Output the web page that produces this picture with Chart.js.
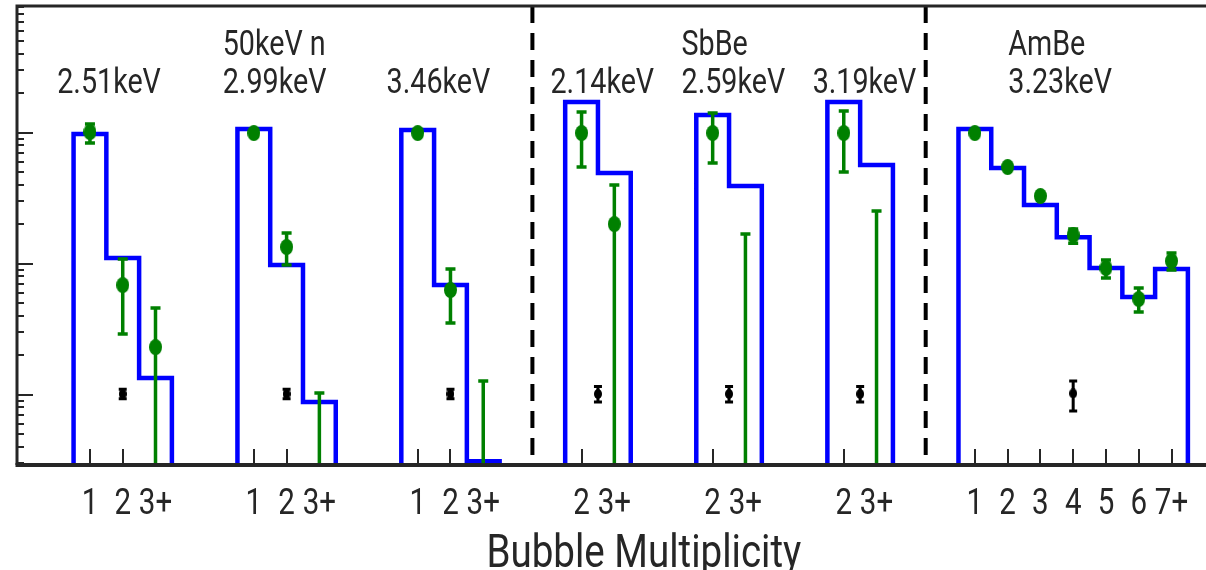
<!DOCTYPE html>
<html>
<head>
<meta charset="utf-8">
<title>Bubble Multiplicity</title>
<script src="https://cdn.jsdelivr.net/npm/chart.js@4.4.1/dist/chart.umd.min.js"></script>
<style>
  html, body { margin: 0; padding: 0; background: #fff; overflow: hidden; }
  #wrap { position: relative; width: 1206px; height: 570px; }
</style>
</head>
<body>
<div id="wrap"><canvas id="multChart"></canvas></div>
<script>
// multiplicity bins for each source / threshold setting
const binLabels = [
  ['1', '2', '3+'],
  ['1', '2', '3+'],
  ['1', '2', '3+'],
  ['2', '3+'],
  ['2', '3+'],
  ['2', '3+'],
  ['1', '2', '3', '4', '5', '6', '7+']
];
const sourceNames = ['', '50keV n', '', '', 'SbBe', '', 'AmBe'];
const thresholds = ['2.51keV', '2.99keV', '3.46keV', '2.14keV', '2.59keV', '3.19keV', '3.23keV'];

// simulation (blue histograms)
const simRates = [
  [0.974, 0.110, 0.0134],
  [1.063, 0.0974, 0.00877],
  [1.045, 0.0685, 0.0031],
  [1.709, 0.491],
  [1.36, 0.391],
  [1.709, 0.565],
  [1.063, 0.536, 0.280, 0.159, 0.0924, 0.0555, 0.0908]
];

// measured (green); null = no central value, upper bar only
const measRates = [
  [1.009, 0.0685, 0.0230],
  [0.991, 0.1336, null],
  [0.991, 0.0628, null],
  [0.991, 0.200],
  [0.991, null],
  [0.991, null],
  [0.991, 0.545, 0.3275, 0.165, 0.0924, 0.0536, 0.1045]
];
const measUpper = [
  [1.161, 0.1083, 0.0457],
  [1.05, 0.171, 0.01027],
  [1.05, 0.0908, 0.01268],
  [1.434, 0.397],
  [1.409, 0.168],
  [1.459, 0.2517],
  [1.02, 0.56, 0.337, 0.1835, 0.1062, 0.0650, 0.1203]
];
const measLower = [
  [0.832, 0.0290, 0],
  [0.94, 0.0974, 0],
  [0.94, 0.0351, 0],
  [0.545, 0],
  [0.585, 0],
  [0.4994, 0],
  [0.96, 0.53, 0.318, 0.1431, 0.0775, 0.0426, 0.0893]
];

// background (black), one per source, and which bin it sits on
const bgBin = [1, 1, 1, 0.5, 0.5, 0.5, 3];
const bgRates = [0.0101, 0.0101, 0.0101, 0.0101, 0.0101, 0.0101, 0.0102];
const bgUpper = [0.0110, 0.0110, 0.0110, 0.01154, 0.01154, 0.01154, 0.01268];
const bgLower = [0.0093, 0.0093, 0.0093, 0.00877, 0.00877, 0.00877, 0.00748];

const Y_MIN = 0.0029, Y_MAX = 9.24;
const X_MIN = -2.226, X_MAX = 33.9;
const GAP = 2;               // empty bins between sources
const dividers = [3, 6];     // dashed line before these groups

const BLUE = '#0000ff', GREEN = '#008000', INK = '#262626';

// first-bin position of every group
const groupStart = [];
let pos = 0;
binLabels.forEach(b => { groupStart.push(pos); pos += b.length + GAP; });

function histPoints(g) {
  const s = groupStart[g], v = simRates[g];
  const floor = Y_MIN / 10;
  const pts = [{ x: s - 0.5, y: floor }];
  v.forEach((r, i) => {
    pts.push({ x: s + i - 0.5, y: r });
    pts.push({ x: s + i + 0.5, y: r });
  });
  pts.push({ x: s + v.length - 0.5, y: floor });
  return pts;
}

function ellipseSprite(w, h, color) {
  const c = document.createElement('canvas');
  c.width = w; c.height = h;
  const g = c.getContext('2d');
  g.fillStyle = color;
  g.beginPath();
  g.ellipse(w / 2, h / 2, w / 2, h / 2, 0, 0, Math.PI * 2);
  g.fill();
  return c;
}

const histSets = binLabels.map((_, g) => ({
  data: histPoints(g),
  showLine: true,
  borderColor: BLUE,
  borderWidth: 4.5,
  borderJoinStyle: 'miter',
  borderCapStyle: 'butt',
  pointRadius: 0,
  tension: 0,
  clip: 0,
  order: 3
}));

const measPts = [], measBars = [];
measRates.forEach((vals, g) => {
  vals.forEach((v, i) => {
    const x = groupStart[g] + i;
    if (v !== null) measPts.push({ x, y: v });
    measBars.push({ x, hi: measUpper[g][i], lo: measLower[g][i] });
  });
});

const bgPts = bgRates.map((v, g) => ({ x: groupStart[g] + bgBin[g], y: v }));
const bgBars = bgRates.map((v, g) => ({ x: groupStart[g] + bgBin[g], hi: bgUpper[g], lo: bgLower[g] }));

// error bars under the markers, axes, ticks and text
const decorations = {
  id: 'decorations',
  beforeDatasetsDraw(chart) {
    const { ctx, chartArea: a, scales: { x, y } } = chart;
    ctx.save();
    ctx.strokeStyle = INK;
    ctx.lineWidth = 2;
    // bin ticks, pointing up from the bottom axis
    binLabels.forEach((labels, g) => {
      labels.forEach((_, i) => {
        const px = Math.round(x.getPixelForValue(groupStart[g] + i));
        ctx.beginPath();
        ctx.moveTo(px, a.bottom);
        ctx.lineTo(px, a.bottom - 16);
        ctx.stroke();
      });
    });
    // log ticks on the left axis
    const e0 = Math.floor(Math.log10(Y_MIN)), e1 = Math.ceil(Math.log10(Y_MAX));
    for (let e = e0; e <= e1; e++) {
      for (let k = 1; k <= 9; k++) {
        const v = k * Math.pow(10, e);
        if (v < Y_MIN || v > Y_MAX) continue;
        const py = Math.round(y.getPixelForValue(v));
        ctx.beginPath();
        ctx.moveTo(a.left, py);
        ctx.lineTo(a.left + (k === 1 ? 16 : 7), py);
        ctx.stroke();
      }
    }
    // dashed separators between sources
    ctx.strokeStyle = '#000';
    ctx.lineWidth = 4;
    ctx.setLineDash([17, 10]);
    dividers.forEach(g => {
      const px = x.getPixelForValue(groupStart[g] - (GAP + 1) / 2);
      ctx.beginPath();
      ctx.moveTo(px, a.top);
      ctx.lineTo(px, a.bottom);
      ctx.stroke();
    });
    ctx.restore();
  },
  beforeDatasetDraw(chart, args) {
    const ds = chart.data.datasets[args.index];
    if (!ds.errorBars) return;
    const { ctx, chartArea: a, scales: { x, y } } = chart;
    ctx.save();
    ctx.beginPath();
    ctx.rect(a.left, a.top, a.right - a.left, a.bottom - a.top);
    ctx.clip();
    ctx.strokeStyle = ds.backgroundColor;
    ctx.lineWidth = ds.barWidth;
    ds.errorBars.forEach(b => {
      const px = x.getPixelForValue(b.x);
      const top = y.getPixelForValue(b.hi);
      const bot = b.lo > 0 ? y.getPixelForValue(b.lo) : a.bottom + 5;
      ctx.beginPath();
      ctx.moveTo(px, top);
      ctx.lineTo(px, bot);
      ctx.moveTo(px - ds.capHalf, top);
      ctx.lineTo(px + ds.capHalf, top);
      if (b.lo > 0) {
        ctx.moveTo(px - ds.capHalf, bot);
        ctx.lineTo(px + ds.capHalf, bot);
      }
      ctx.stroke();
    });
    ctx.restore();
  },
  afterDraw(chart) {
    const { ctx, chartArea: a, scales: { x } } = chart;
    ctx.save();
    ctx.strokeStyle = INK;
    ctx.lineWidth = 3;
    ctx.beginPath();
    ctx.moveTo(a.left, a.bottom);
    ctx.lineTo(a.left, a.top);
    ctx.lineTo(chart.width, a.top);
    ctx.stroke();
    ctx.lineWidth = 4;
    ctx.beginPath();
    ctx.moveTo(a.left - 1.5, a.bottom);
    ctx.lineTo(chart.width, a.bottom);
    ctx.stroke();

    ctx.fillStyle = INK;
    const narrow = (text, px, py, size, align) => {
      ctx.save();
      ctx.translate(px, py);
      ctx.scale(0.82, 1);
      ctx.font = size + 'px Roboto';
      ctx.textAlign = align;
      ctx.textBaseline = 'alphabetic';
      ctx.fillText(text, 0, 0);
      ctx.restore();
    };
    binLabels.forEach((labels, g) => {
      labels.forEach((t, i) => narrow(t, x.getPixelForValue(groupStart[g] + i), a.bottom + 49, 36, 'center'));
    });
    const labelShift = [-1, -0.95, -0.95, -0.95, -0.95, -0.95, 1.02];
    thresholds.forEach((t, g) => {
      const px = x.getPixelForValue(groupStart[g] + labelShift[g]);
      narrow(t, px, a.top + 87, 35, 'left');
      if (sourceNames[g]) narrow(sourceNames[g], px, a.top + 49, 35, 'left');
    });
    narrow('Bubble Multiplicity', x.getPixelForValue(16.9), 567, 47, 'center');
    ctx.restore();
  }
};

new Chart(document.getElementById('multChart'), {
  type: 'scatter',
  data: {
    datasets: [
      ...histSets,
      {
        data: measPts,
        errorBars: measBars,
        capHalf: 5,
        barWidth: 3.5,
        backgroundColor: GREEN,
        borderColor: GREEN,
        pointStyle: ellipseSprite(13, 16, GREEN),
        clip: 0,
        order: 2
      },
      {
        data: bgPts,
        errorBars: bgBars,
        capHalf: 4,
        barWidth: 3,
        backgroundColor: '#000',
        borderColor: '#000',
        pointStyle: ellipseSprite(8, 10, '#000'),
        clip: 0,
        order: 1
      }
    ]
  },
  options: {
    responsive: true,
    maintainAspectRatio: false,
    animation: false,
    events: [],
    layout: { padding: { left: 17, top: 6, right: 0, bottom: 105 } },
    plugins: { legend: { display: false }, tooltip: { enabled: false } },
    scales: {
      x: { type: 'linear', min: X_MIN, max: X_MAX, bounds: 'data', display: false },
      y: { type: 'logarithmic', min: Y_MIN, max: Y_MAX, bounds: 'data', display: false }
    }
  },
  plugins: [decorations]
});
</script>
</body>
</html>
